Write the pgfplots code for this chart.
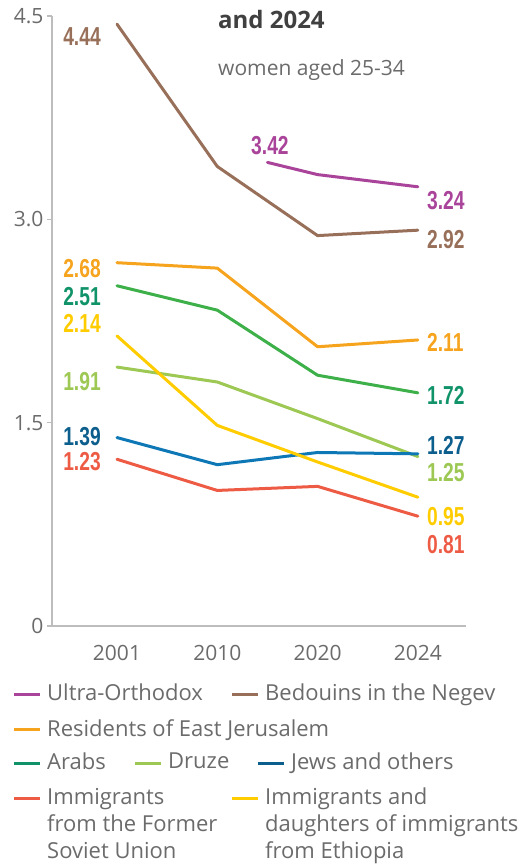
\documentclass[border=0pt]{standalone}
\usepackage{pgfplots}
\pgfplotsset{compat=1.18}
\usepackage{fontspec}
\setmainfont{Open Sans}
\newfontfamily\numfont[FakeStretch=0.74]{Liberation Sans}

\definecolor{cUO}{HTML}{A9449A}
\definecolor{cBed}{HTML}{98705A}
\definecolor{cEJ}{HTML}{F6A31E}
\definecolor{cAr}{HTML}{3DB04A}
\definecolor{cArL}{HTML}{11936A}
\definecolor{cDr}{HTML}{9CC853}
\definecolor{cJw}{HTML}{0E78B6}
\definecolor{cJwL}{HTML}{0C5E8C}
\definecolor{cFSU}{HTML}{EE5B45}
\definecolor{cEth}{HTML}{FFCC00}
\definecolor{txt}{HTML}{6B6B6B}
\definecolor{axgray}{HTML}{BDBDBD}

\begin{document}
\begin{tikzpicture}[x=1pt,y=1pt]
\useasboundingbox (-52,-238) rectangle (477,626);
\begin{axis}[
  at={(0,0)}, anchor=south west,
  scale only axis,
  width=414pt, height=610pt,
  xmin=-0.648, xmax=3.48,
  ymin=0, ymax=4.5,
  axis x line*=bottom, axis y line*=left,
  axis line style={axgray, line width=1.2pt},
  xtick={0,1,2,3}, xticklabels={2001,2010,2020,2024},
  ytick={0,1.5,3,4.5},
  yticklabels={0,1.5,3.0,4.5},
  major x tick style={draw=none},
  major y tick style={axgray, line width=1.2pt},
  tick align=outside,
  major tick length=5pt,
  tick label style={font=\fontsize{21}{24}\selectfont, text=txt},
  xticklabel style={yshift=-11pt},
  clip=false,
  every axis plot/.append style={line width=3pt, line join=round, line cap=round},
]
\addplot[cUO] coordinates {(1.5,3.42) (2,3.33) (3,3.24)};
\addplot[cBed] coordinates {(0,4.44) (1,3.39) (2,2.88) (3,2.92)};
\addplot[cEJ] coordinates {(0,2.68) (1,2.64) (2,2.06) (3,2.11)};
\addplot[cAr] coordinates {(0,2.51) (1,2.33) (2,1.85) (3,1.72)};
\addplot[cDr] coordinates {(0,1.91) (1,1.80) (2,1.53) (3,1.25)};
\addplot[cJw] coordinates {(0,1.39) (1,1.19) (2,1.28) (3,1.27)};
\addplot[cFSU] coordinates {(0,1.23) (1,1.00) (2,1.03) (3,0.81)};
\addplot[cEth] coordinates {(0,2.14) (1,1.48) (2,1.21) (3,0.95)};

\begin{scope}[every node/.style={font=\numfont\bfseries\fontsize{26}{28}\selectfont, inner sep=0pt}]
\node[anchor=east, text=cBed] at (axis cs:-0.16,4.35) {4.44};
\node[anchor=east, text=cEJ] at (axis cs:-0.16,2.64) {2.68};
\node[anchor=east, text=cArL] at (axis cs:-0.16,2.43) {2.51};
\node[anchor=east, text=cEth] at (axis cs:-0.16,2.23) {2.14};
\node[anchor=east, text=cDr] at (axis cs:-0.16,1.80) {1.91};
\node[anchor=east, text=cJwL] at (axis cs:-0.16,1.40) {1.39};
\node[anchor=east, text=cFSU] at (axis cs:-0.16,1.21) {1.23};
\node[anchor=center, text=cUO] at (axis cs:1.525,3.547) {3.42};
\node[anchor=west, text=cUO] at (axis cs:3.09,3.14) {3.24};
\node[anchor=west, text=cBed] at (axis cs:3.09,2.85) {2.92};
\node[anchor=west, text=cEJ] at (axis cs:3.09,2.09) {2.11};
\node[anchor=west, text=cArL] at (axis cs:3.09,1.70) {1.72};
\node[anchor=west, text=cJwL] at (axis cs:3.09,1.33) {1.27};
\node[anchor=west, text=cDr] at (axis cs:3.09,1.13) {1.25};
\node[anchor=west, text=cEth] at (axis cs:3.09,0.81) {0.95};
\node[anchor=west, text=cFSU] at (axis cs:3.09,0.60) {0.81};
\end{scope}
\end{axis}

% title fragments (coordinates in px from the top-left of the picture)
\node[anchor=west, text=black!75, font=\fontsize{24}{26}\selectfont\bfseries, inner sep=0pt] at (218-52,626-20) {and 2024};
\node[anchor=west, text=txt, font=\fontsize{21}{24}\selectfont, inner sep=0pt] at (218-52,626-70) {women aged 25-34};

% legend
\begin{scope}[shift={(-52,626)}, yscale=-1, every node/.style={anchor=north west, text=txt, font=\fontsize{22}{27}\selectfont, inner sep=0pt, align=left}]
\def\lg#1#2#3#4{\draw[#3, line width=3pt] (#1,#2) -- (#1+26,#2); \node at (#1+33,#2-10) {#4};}
\lg{14}{694}{cUO}{Ultra-Orthodox}
\lg{232}{694}{cBed}{Bedouins in the Negev}
\lg{14}{729}{cEJ}{Residents of East Jerusalem}
\lg{14}{763}{cArL}{Arabs}
\lg{135}{763}{cDr}{Druze}
\lg{258}{763}{cJwL}{Jews and others}
\lg{14}{798}{cFSU}{Immigrants\\from the Former\\Soviet Union}
\lg{232}{798}{cEth}{Immigrants and\\daughters of immigrants\\from Ethiopia}
\end{scope}
\end{tikzpicture}
\end{document}
